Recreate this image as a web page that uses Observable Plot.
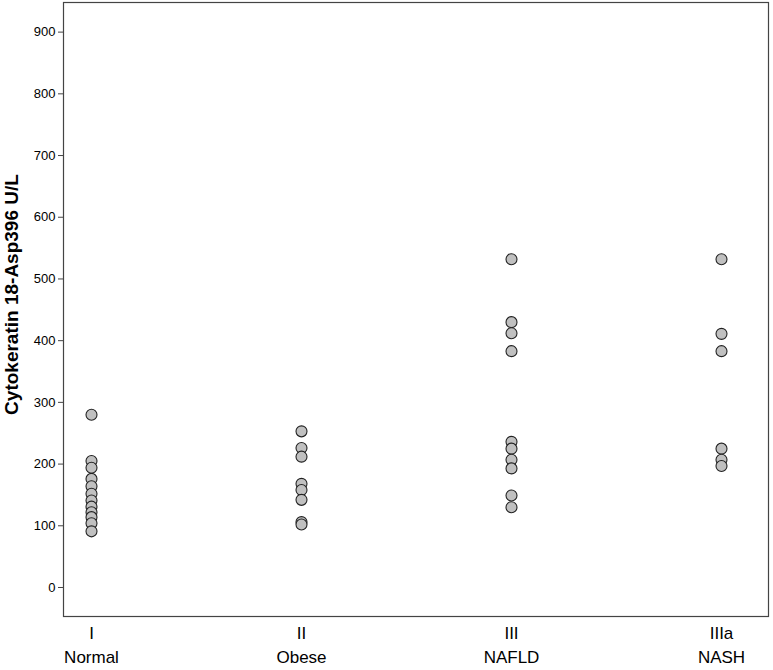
<!DOCTYPE html>
<html>
<head>
<meta charset="utf-8">
<script src="https://cdn.jsdelivr.net/npm/d3@7"></script>
<script src="https://cdn.jsdelivr.net/npm/@observablehq/plot@0.6"></script>
<style>
  html, body { margin: 0; padding: 0; background: #fff; }
  #chart { width: 773px; height: 670px; }
</style>
</head>
<body>
<div id="chart"></div>
<script>
const groups = ["I", "II", "III", "IIIa"];
const groupNames = ["Normal", "Obese", "NAFLD", "NASH"];
const normalValues = [280, 205, 194, 176, 164, 152, 141, 131, 122, 114, 104, 91];
const obeseValues = [253, 226, 212, 168, 158, 142, 106, 102];
const nafldValues = [532, 430, 412, 383, 236, 225, 207, 193, 149, 130];
const nashValues = [532, 411, 383, 225, 207, 197];
const yTicks = [0, 100, 200, 300, 400, 500, 600, 700, 800, 900];

const seriesValues = [normalValues, obeseValues, nafldValues, nashValues];
const data = groups.flatMap((g, i) => seriesValues[i].map(v => ({group: g, value: v})));
const nameOf = new Map(groups.map((g, i) => [g, groupNames[i]]));

const chart = Plot.plot({
  width: 773,
  height: 670,
  marginLeft: 63,
  marginRight: 5,
  marginTop: 2,
  marginBottom: 54,
  style: {fontFamily: "Liberation Sans, Arial, sans-serif", background: "#fff"},
  x: {type: "point", domain: groups, padding: 0.176, align: 0.378, label: null},
  y: {domain: [-47, 948], label: null},
  marks: [
    Plot.frame({stroke: "#444", strokeWidth: 1.2}),
    Plot.axisY({
      ticks: yTicks, tickSize: 5, tickPadding: 3, fontSize: 13,
      label: null, stroke: "#444"
    }),
    Plot.text(["Cytokeratin 18-Asp396 U/L"], {
      frameAnchor: "left", textAnchor: "middle", dx: -52, dy: -15, rotate: -90,
      fontSize: 19, fontWeight: "bold", fill: "#000"
    }),
    Plot.axisX({
      tickSize: 0, tickPadding: 6, fontSize: 17,
      fontFamily: "Liberation Sans Narrow, Arial Narrow, Liberation Sans, sans-serif",
      tickFormat: d => `${d}\n${nameOf.get(d)}`,
      lineHeight: 1.4,
      label: null
    }),
    Plot.dot(data, {x: "group", y: "value", r: 5.5, fill: "#c0c0c0", stroke: "#222", strokeWidth: 1.1})
  ]
});
document.getElementById("chart").append(chart);
</script>
</body>
</html>
